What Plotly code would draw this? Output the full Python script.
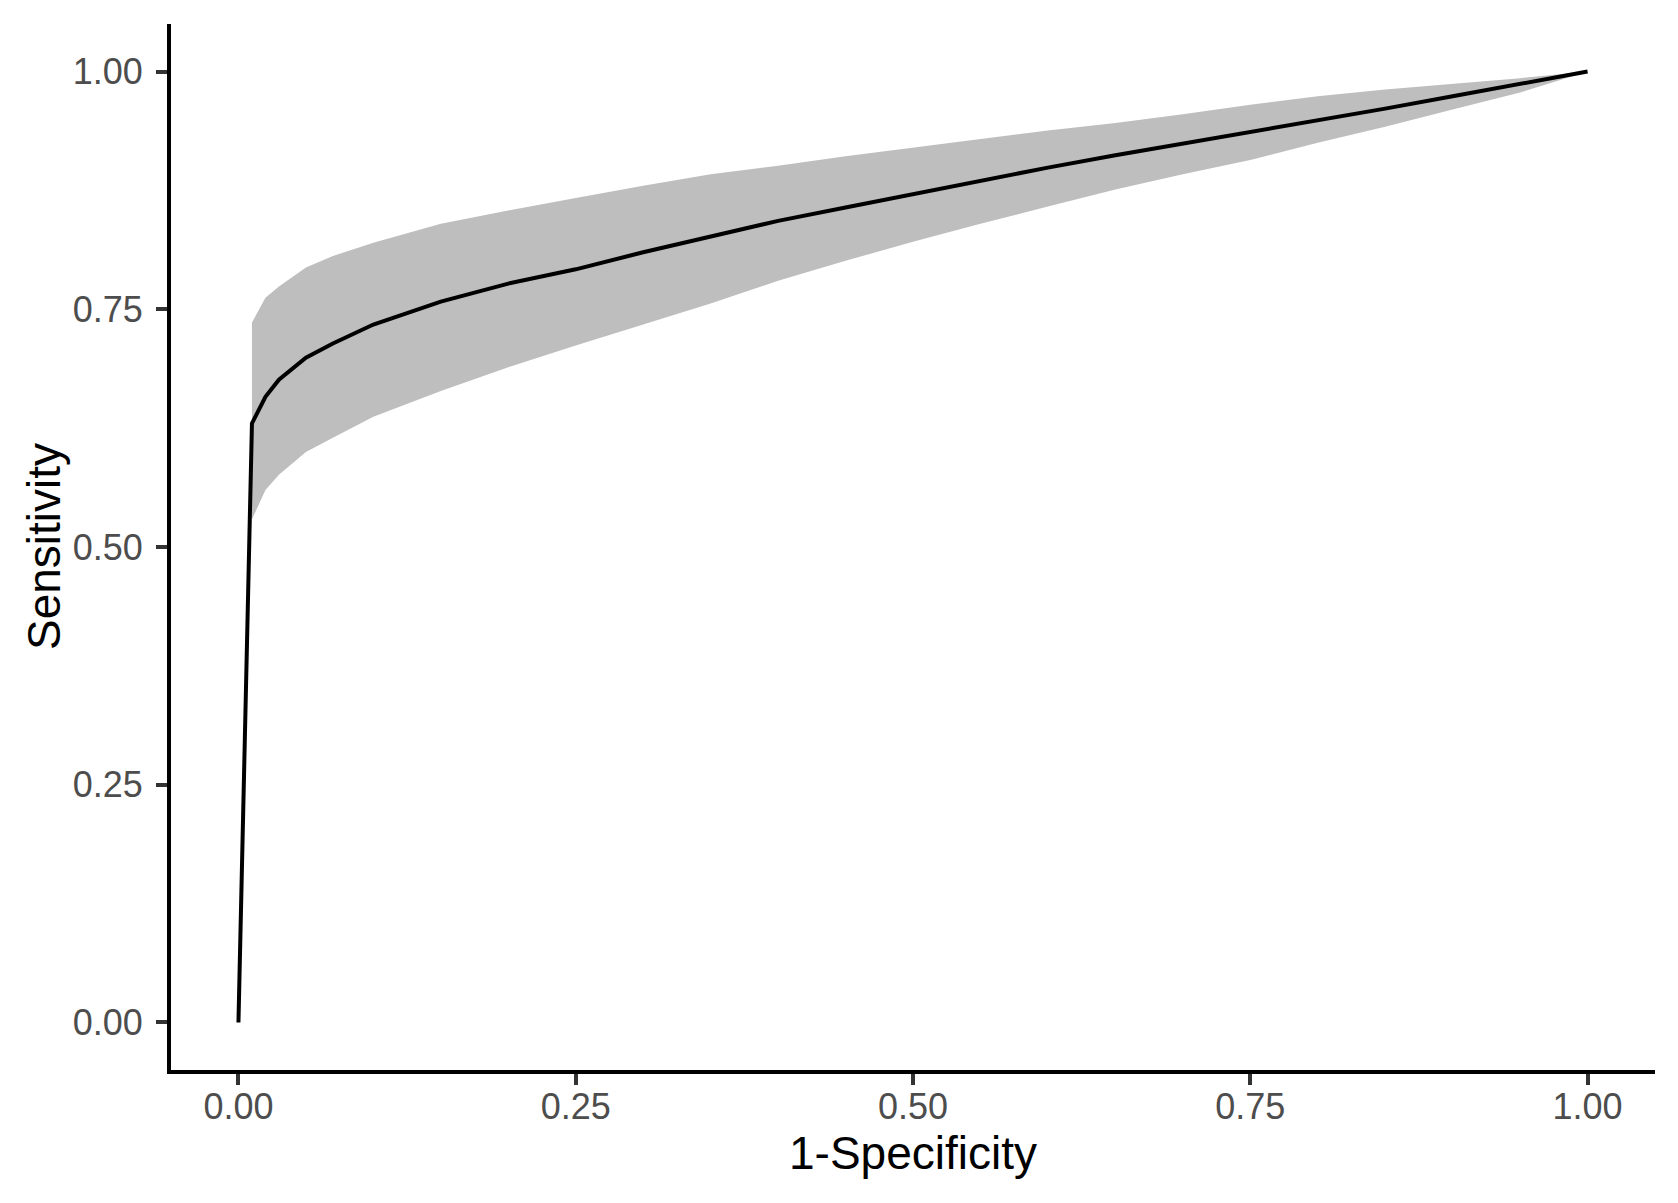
import plotly.graph_objects as go

# ROC curve with confidence band
fpr = [0.0, 0.01, 0.02, 0.03, 0.05, 0.07, 0.10, 0.15, 0.20, 0.25, 0.30, 0.35,
       0.40, 0.45, 0.50, 0.55, 0.60, 0.65, 0.70, 0.75, 0.80, 0.85, 0.90, 0.95, 1.0]
sens = [0.0, 0.630, 0.658, 0.676, 0.699, 0.714, 0.734, 0.758, 0.777, 0.792, 0.810, 0.826,
        0.843, 0.857, 0.871, 0.886, 0.899, 0.912, 0.924, 0.937, 0.949, 0.961, 0.974, 0.987, 1.0]

# band starts at the first non-zero fpr
band_fpr = fpr[1:]
upper = [0.736, 0.762, 0.774, 0.794, 0.806, 0.820, 0.840, 0.854, 0.867, 0.880, 0.892,
         0.901, 0.911, 0.920, 0.929, 0.938, 0.946, 0.955, 0.965, 0.974, 0.981, 0.987, 0.993, 1.0]
lower = [0.529, 0.560, 0.576, 0.600, 0.615, 0.637, 0.664, 0.689, 0.712, 0.734, 0.756,
         0.780, 0.801, 0.821, 0.840, 0.858, 0.876, 0.892, 0.907, 0.925, 0.942, 0.960, 0.978, 1.0]

ticks = [0, 0.25, 0.5, 0.75, 1.0]
tick_text = ['0.00', '0.25', '0.50', '0.75', '1.00']

font_family = 'Liberation Sans, Arial, sans-serif'

fig = go.Figure()
fig.add_trace(go.Scatter(x=band_fpr, y=lower, mode='lines', line=dict(width=0),
                         hoverinfo='skip', showlegend=False))
fig.add_trace(go.Scatter(x=band_fpr, y=upper, mode='lines', line=dict(width=0),
                         fill='tonexty', fillcolor='#BEBEBE',
                         hoverinfo='skip', showlegend=False))
fig.add_trace(go.Scatter(x=fpr, y=sens, mode='lines',
                         line=dict(color='black', width=4),
                         showlegend=False))

axis_common = dict(
    tickvals=ticks, ticktext=tick_text,
    showgrid=False, zeroline=False,
    showline=True, linecolor='black', linewidth=4,
    ticks='outside', ticklen=11, tickwidth=4, tickcolor='#333333',
    tickfont=dict(family=font_family, size=36, color='#4D4D4D'),
)

fig.update_xaxes(range=[-0.05, 1.05], ticklabelstandoff=-9,
                 title=dict(text='1-Specificity', standoff=12,
                            font=dict(family=font_family, size=46, color='black')),
                 **axis_common)
fig.update_yaxes(range=[-0.05, 1.05], ticklabelstandoff=6, **axis_common)

# y title as an annotation to place it exactly
fig.add_annotation(text='Sensitivity', textangle=-90, showarrow=False,
                   xref='paper', yref='paper', x=0, y=0.5,
                   xanchor='center', yanchor='middle', xshift=-127,
                   font=dict(family=font_family, size=46, color='black'))

# page body adds a small offset, so the figure is slightly smaller than the window
fig.update_layout(
    width=1670, height=1195,
    margin=dict(l=163, r=23, t=16, b=133),
    plot_bgcolor='white', paper_bgcolor='white',
    font=dict(family=font_family),
)

fig.write_html("out.html")
